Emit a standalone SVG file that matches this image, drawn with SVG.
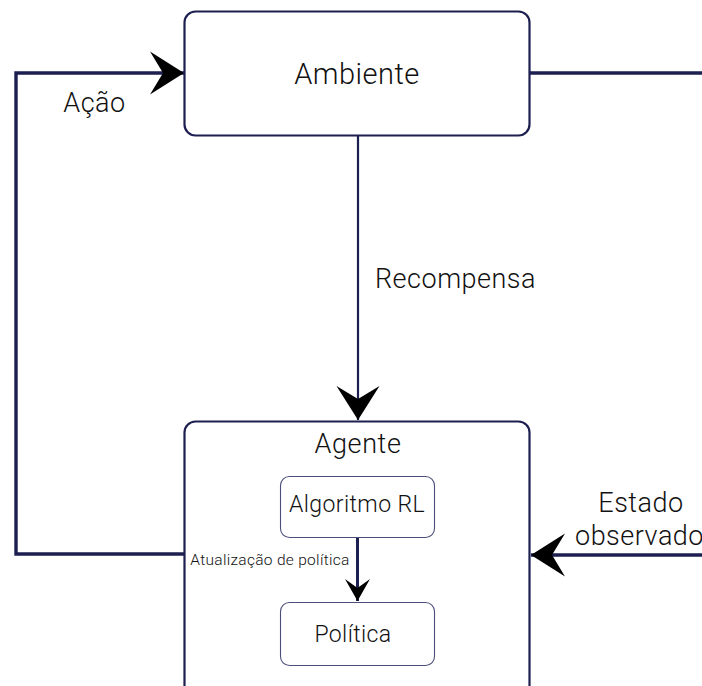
<svg xmlns="http://www.w3.org/2000/svg" width="702" height="686" viewBox="0 0 702 686">
<style>
.box{fill:#fff;stroke:#1c1f4f;stroke-width:2.2}
.ibox{fill:#fff;stroke:#4a4e78;stroke-width:1.1}
.t{font-family:Roboto,"Liberation Sans",sans-serif;font-weight:300;fill:#111;text-anchor:middle}
.line{fill:none;stroke:#1c1f4f}
</style>
<defs>
<marker id="ah" viewBox="0 0 34 44" refX="34" refY="22" markerWidth="34" markerHeight="44" markerUnits="userSpaceOnUse" orient="auto">
<path d="M0,0.5 L34,22 L0,43.5 L13,22 Z" fill="#000"/>
</marker>
<marker id="ahs" viewBox="0 0 22 26" refX="22" refY="13" markerWidth="22" markerHeight="26" markerUnits="userSpaceOnUse" orient="auto">
<path d="M0,0.5 L22,13 L0,25.5 L9,13 Z" fill="#000"/>
</marker>
</defs>
<g id="connectors">
<path class="line" stroke-width="3.4" d="M184,554 H16 V73 H184" marker-end="url(#ah)"/>
<path class="line" stroke-width="3.4" d="M530,73 H702"/>
<path class="line" stroke-width="2.2" d="M358,136 V420" marker-end="url(#ah)"/>
<path class="line" stroke-width="3.4" d="M702,555 H531" marker-end="url(#ah)"/>
</g>
<g id="ambiente">
<rect class="box" x="184.5" y="11.5" width="345" height="124" rx="11"/>
<text class="t" x="357" y="84" font-size="29" letter-spacing="0.5">Ambiente</text>
</g>
<g id="agente">
<rect class="box" x="184.5" y="421.5" width="345" height="280" rx="11"/>
<text class="t" x="358" y="453" font-size="27" letter-spacing="0.6">Agente</text>
</g>
<g id="algoritmo">
<rect class="ibox" x="280.5" y="476.5" width="154" height="61" rx="9"/>
<text class="t" x="357" y="512" font-size="23" letter-spacing="0.4">Algoritmo RL</text>
</g>
<g id="politica">
<rect class="ibox" x="280.5" y="602.5" width="154" height="63" rx="9"/>
<text class="t" x="353" y="642" font-size="23" letter-spacing="0.4">Política</text>
</g>
<g id="inner-connector">
<path class="line" stroke-width="3" d="M357.5,538 V601" marker-end="url(#ahs)"/>
</g>
<g id="labels">
<text class="t" x="94.5" y="112" font-size="27" letter-spacing="0.5">Ação</text>
<text class="t" x="455.5" y="288" font-size="27" letter-spacing="0.5">Recompensa</text>
<text class="t" x="270" y="565" font-size="15.5" letter-spacing="0.3">Atualização de política</text>
<text class="t" x="641" y="512" font-size="27" letter-spacing="0.5">Estado</text>
<text class="t" x="575" y="545" font-size="27" letter-spacing="0.5" style="text-anchor:start">observado</text>
</g>
</svg>
